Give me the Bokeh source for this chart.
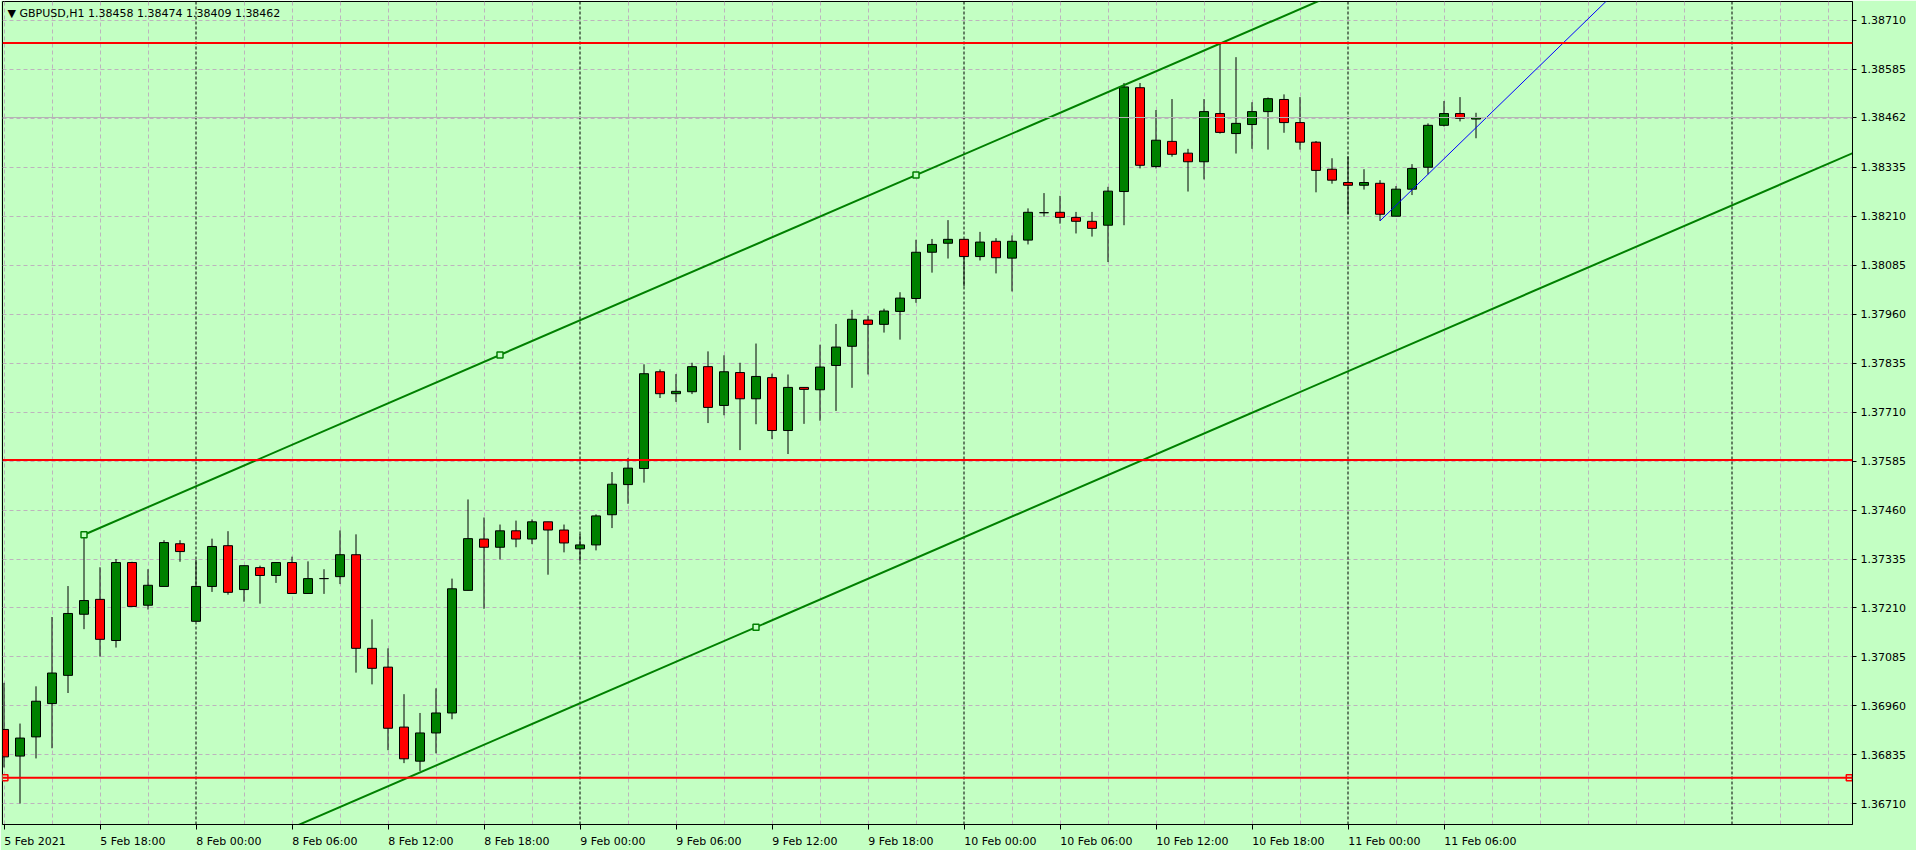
import numpy as np
from bokeh.plotting import figure
from bokeh.models import (ColumnDataSource, FixedTicker, Span, Label,
                          Range1d, PrintfTickFormatter)
from bokeh.embed import file_html
from bokeh.resources import INLINE

# ---------------- data ----------------
header = "\u25BC GBPUSD,H1  1.38458 1.38474 1.38409 1.38462"

opens = [1.36900, 1.36832, 1.36881, 1.36966, 1.37038, 1.37194, 1.37232, 1.37127, 1.37326, 1.37217,
         1.37265, 1.37374, 1.37176, 1.37265, 1.37369, 1.37257, 1.37313, 1.37293, 1.37326, 1.37247,
         1.37285, 1.37290, 1.37346, 1.37107, 1.37059, 1.36906, 1.36819, 1.36891, 1.36942, 1.37255,
         1.37386, 1.37365, 1.37407, 1.37386, 1.37430, 1.37409, 1.37361, 1.37371, 1.37448, 1.37525,
         1.37566, 1.37813, 1.37757, 1.37762, 1.37826, 1.37727, 1.37811, 1.37744, 1.37798, 1.37663,
         1.37773, 1.37767, 1.37829, 1.37878, 1.37945, 1.37934, 1.37967, 1.38000, 1.38118, 1.38141,
         1.38151, 1.38107, 1.38146, 1.38103, 1.38149, 1.38219, 1.38220, 1.38207, 1.38197, 1.38187,
         1.38273, 1.38538, 1.38337, 1.38401, 1.38371, 1.38349, 1.38472, 1.38421, 1.38444, 1.38477,
         1.38508, 1.38449, 1.38399, 1.38330, 1.38296, 1.38289, 1.38294, 1.38210, 1.38279, 1.38335,
         1.38442, 1.38472, 1.38458]
highs = [1.37019, 1.36915, 1.37010, 1.37187, 1.37266, 1.37397, 1.37314, 1.37335, 1.37328, 1.37309,
         1.37383, 1.37383, 1.37333, 1.37387, 1.37406, 1.37318, 1.37318, 1.37326, 1.37341, 1.37329,
         1.37309, 1.37408, 1.37398, 1.37181, 1.37107, 1.36990, 1.36942, 1.37005, 1.37285, 1.37487,
         1.37441, 1.37423, 1.37433, 1.37436, 1.37430, 1.37423, 1.37399, 1.37449, 1.37557, 1.37593,
         1.37832, 1.37819, 1.37807, 1.37836, 1.37865, 1.37855, 1.37836, 1.37885, 1.37808, 1.37806,
         1.37773, 1.37882, 1.37935, 1.37971, 1.37956, 1.37974, 1.38016, 1.38150, 1.38152, 1.38200,
         1.38151, 1.38170, 1.38154, 1.38161, 1.38230, 1.38269, 1.38262, 1.38221, 1.38221, 1.38285,
         1.38550, 1.38550, 1.38481, 1.38509, 1.38382, 1.38509, 1.38654, 1.38616, 1.38501, 1.38513,
         1.38521, 1.38514, 1.38402, 1.38358, 1.38363, 1.38330, 1.38302, 1.38287, 1.38343, 1.38447,
         1.38504, 1.38514, 1.38474]
lows = [1.36803, 1.36711, 1.36826, 1.36852, 1.36993, 1.37156, 1.37086, 1.37109, 1.37214, 1.37206,
        1.37265, 1.37328, 1.37176, 1.37251, 1.37244, 1.37226, 1.37221, 1.37274, 1.37247, 1.37247,
        1.37246, 1.37271, 1.37045, 1.37015, 1.36847, 1.36814, 1.36794, 1.36839, 1.36926, 1.37255,
        1.37208, 1.37334, 1.37365, 1.37373, 1.37295, 1.37352, 1.37329, 1.37357, 1.37414, 1.37476,
        1.37530, 1.37746, 1.37736, 1.37756, 1.37682, 1.37702, 1.37613, 1.37679, 1.37641, 1.37603,
        1.37680, 1.37688, 1.37713, 1.37772, 1.37806, 1.37913, 1.37895, 1.37989, 1.38066, 1.38102,
        1.38031, 1.38097, 1.38064, 1.38018, 1.38138, 1.38209, 1.38191, 1.38166, 1.38158, 1.38093,
        1.38187, 1.38332, 1.38332, 1.38362, 1.38273, 1.38304, 1.38421, 1.38370, 1.38382, 1.38380,
        1.38423, 1.38380, 1.38271, 1.38293, 1.38215, 1.38278, 1.38198, 1.38210, 1.38264, 1.38317,
        1.38439, 1.38452, 1.38409]
closes = [1.36830, 1.36878, 1.36972, 1.37044, 1.37196, 1.37229, 1.37130, 1.37326, 1.37214, 1.37268,
          1.37377, 1.37354, 1.37265, 1.37367, 1.37250, 1.37318, 1.37293, 1.37326, 1.37247, 1.37285,
          1.37285, 1.37346, 1.37107, 1.37056, 1.36903, 1.36825, 1.36891, 1.36942, 1.37259, 1.37387,
          1.37365, 1.37407, 1.37386, 1.37430, 1.37409, 1.37376, 1.37371, 1.37445, 1.37526, 1.37567,
          1.37808, 1.37757, 1.37763, 1.37826, 1.37722, 1.37813, 1.37744, 1.37801, 1.37663, 1.37773,
          1.37768, 1.37825, 1.37876, 1.37947, 1.37934, 1.37968, 1.38001, 1.38118, 1.38138, 1.38151,
          1.38107, 1.38144, 1.38104, 1.38146, 1.38220, 1.38219, 1.38207, 1.38197, 1.38179, 1.38274,
          1.38540, 1.38340, 1.38404, 1.38368, 1.38349, 1.38477, 1.38424, 1.38447, 1.38477, 1.38510,
          1.38449, 1.38399, 1.38327, 1.38302, 1.38289, 1.38296, 1.38215, 1.38279, 1.38332, 1.38442,
          1.38472, 1.38460, 1.38462]

label_bars = [0, 6, 12, 18, 24, 30, 36, 42, 48, 54, 60, 66, 72, 78, 84, 90]
time_labels = ["5 Feb 2021", "5 Feb 18:00", "8 Feb 00:00", "8 Feb 06:00", "8 Feb 12:00",
               "8 Feb 18:00", "9 Feb 00:00", "9 Feb 06:00", "9 Feb 12:00", "9 Feb 18:00",
               "10 Feb 00:00", "10 Feb 06:00", "10 Feb 12:00", "10 Feb 18:00",
               "11 Feb 00:00", "11 Feb 06:00"]
day_start_bars = [12, 36, 60, 84, 108]

price_ticks = [1.36710, 1.36835, 1.36960, 1.37085, 1.37210, 1.37335, 1.37460, 1.37585,
               1.37710, 1.37835, 1.37960, 1.38085, 1.38210, 1.38335, 1.38460, 1.38585, 1.38710]

hline_levels = [1.38652, 1.37588, 1.36777]
channel_bars = [5, 57]
channel_prices = [1.37397, 1.38315]
channel_third_bar = 47
channel_third_price = 1.37161
trend_bars = [86, 89]
trend_prices = [1.38198, 1.38317]
last_price = 1.38462

# ---------------- style / geometry ----------------
BG = "#C3FFC3"
GRID = "#BDB3BD"
BULL = "#008000"
BEAR = "#FF0000"
FONT = "DejaVu Sans"
PX_PER_BAR = 16.0

# frame spans picture x 2..1852, y 1..827
X_START, X_END = (2 - 3.5) / PX_PER_BAR, (1852 - 3.5) / PX_PER_BAR
Y_START = 1.36710 - (827 - 806.3) / 39320
Y_END = 1.36710 + (806.3 - 1) / 39320

p = figure(width=1916, height=850, x_range=Range1d(X_START, X_END),
           y_range=Range1d(Y_START, Y_END), y_axis_location="right",
           output_backend="svg", toolbar_location=None,
           min_border_left=2, min_border_top=1, min_border_right=64, min_border_bottom=23,
           background_fill_color=BG, border_fill_color=BG,
           outline_line_color="black", outline_line_width=1)

# ---- bottom axis: tick marks as minor ticks at the bars, labels left-aligned at them
CHAR_W = {d: 7.0 for d in "0123456789"}
CHAR_W.update({" ": 3.5, ":": 3.7, "F": 6.3, "e": 6.8, "b": 7.0})
def text_w(s):
    return sum(CHAR_W.get(ch, 7.0) for ch in s)
label_centers = [max(b, X_START) + text_w(t) / 2 / PX_PER_BAR for b, t in zip(label_bars, time_labels)]
p.xaxis.ticker = FixedTicker(ticks=label_centers, minor_ticks=label_bars)
p.xaxis.major_label_overrides = {c: t for c, t in zip(label_centers, time_labels)}
p.xaxis.major_label_text_font = FONT
p.xaxis.major_label_text_font_size = "11px"
p.xaxis.major_label_text_color = "black"
p.xaxis.major_label_standoff = 5
p.xaxis.major_tick_out = 0
p.xaxis.major_tick_in = 0
p.xaxis.minor_tick_out = 5
p.xaxis.minor_tick_in = 0
p.xaxis.minor_tick_line_color = "black"
p.xaxis.axis_line_color = "black"

# ---- right price axis (current price shown on the scale as well)
axis_ticks = [t for t in price_ticks if abs(t - last_price) > 0.0002] + [last_price]
p.yaxis.ticker = FixedTicker(ticks=axis_ticks)
p.yaxis.formatter = PrintfTickFormatter(format="%.5f")
p.yaxis.major_label_text_font = FONT
p.yaxis.major_label_text_font_size = "11px"
p.yaxis.major_label_text_color = "black"
p.yaxis.major_label_standoff = 4
p.yaxis.major_tick_out = 4
p.yaxis.major_tick_in = 0
p.yaxis.minor_tick_out = 0
p.yaxis.minor_tick_in = 0
p.yaxis.axis_line_color = "black"
p.yaxis.major_tick_line_color = "black"

# grids
grid_bars = [b for b in range(0, 117, 3) if b not in day_start_bars]
p.xgrid.ticker = FixedTicker(ticks=grid_bars)
p.xgrid.grid_line_color = GRID
p.xgrid.grid_line_dash = "4 3"
p.ygrid.ticker = FixedTicker(ticks=price_ticks)
p.ygrid.grid_line_color = GRID
p.ygrid.grid_line_dash = "4 3"

for b in day_start_bars:
    p.add_layout(Span(location=b, dimension="height", line_color="black",
                      line_dash="3 2", line_width=1, level="underlay"))

# candles
o = np.array(opens); h = np.array(highs); l = np.array(lows); c = np.array(closes)
idx = np.arange(len(o))
src = ColumnDataSource(dict(
    x=idx, high=h, low=l,
    top=np.maximum(o, c), bottom=np.minimum(o, c),
    color=[BULL if cc >= oo else BEAR for oo, cc in zip(o, c)]))
p.segment(x0="x", y0="low", x1="x", y1="high", source=src, line_color="black", line_width=1)
p.vbar(x="x", width=0.5625, top="top", bottom="bottom", source=src,
       fill_color="color", line_color="black", line_width=1)

# current price line
p.add_layout(Span(location=last_price, dimension="width", line_color="#B4B4B4", line_width=1))

# horizontal red lines
for lvl in hline_levels:
    p.add_layout(Span(location=lvl, dimension="width", line_color="red", line_width=2))
p.scatter(x=[X_START + 0.15, X_END - 0.2], y=[hline_levels[-1]] * 2, marker="square", size=6,
          fill_color=BG, line_color="red", line_width=1.5)

# equidistant channel
slope = (channel_prices[1] - channel_prices[0]) / (channel_bars[1] - channel_bars[0])
cx = np.array([channel_bars[0], X_END + 1])
upper = channel_prices[0] + slope * (cx - channel_bars[0])
offset = channel_prices[0] + slope * (channel_third_bar - channel_bars[0]) - channel_third_price
lower = upper - offset
p.line(cx, upper, line_color=BULL, line_width=2)
p.line(cx, lower, line_color=BULL, line_width=2)
mid_bar = (channel_bars[0] + channel_bars[1]) / 2
mx = [channel_bars[0], mid_bar, channel_bars[1], channel_third_bar]
my = [channel_prices[0], channel_prices[0] + slope * (mid_bar - channel_bars[0]),
      channel_prices[1], channel_third_price]
p.scatter(x=mx, y=my, marker="square", size=6, fill_color=BG, line_color=BULL, line_width=1.5)

# blue trend line (ray)
tslope = (trend_prices[1] - trend_prices[0]) / (trend_bars[1] - trend_bars[0])
tx = np.array([trend_bars[0], X_END + 1])
ty = trend_prices[0] + tslope * (tx - trend_bars[0])
p.line(tx, ty, line_color="#0000FF", line_width=1)

# header
p.add_layout(Label(x=X_START, y=Y_END, x_offset=5, y_offset=-12, text=header,
                   text_font=FONT, text_font_size="11px", text_color="black",
                   text_baseline="middle", text_align="left"))

# current price box on the price scale (drawn at overlay level)
p.add_layout(Label(x=X_END, y=last_price, x_offset=1, text=f"{last_price:.5f}",
                   text_font=FONT, text_font_size="11px", text_color="white",
                   text_baseline="middle", text_align="left", level="overlay",
                   background_fill_color="black", padding=2))

open("out.html", "w").write(file_html(p, INLINE))
